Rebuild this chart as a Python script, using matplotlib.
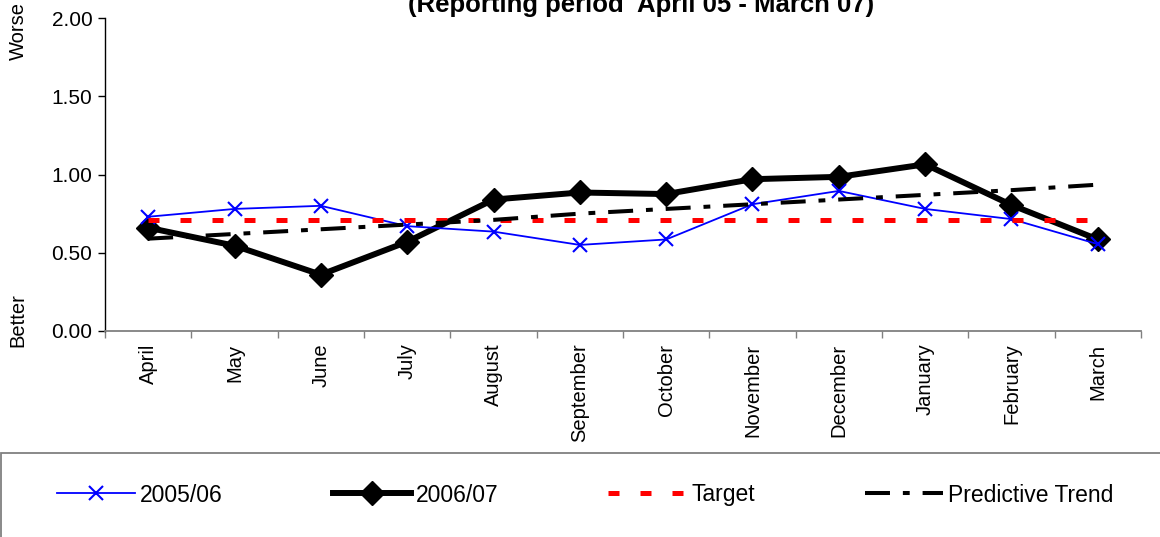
import matplotlib
matplotlib.use("Agg")
import matplotlib.pyplot as plt
from matplotlib.patches import Rectangle
import numpy as np

plt.rcParams['font.family'] = ['Liberation Sans', 'DejaVu Sans']

months = ["April", "May", "June", "July", "August", "September", "October",
          "November", "December", "January", "February", "March"]
s2005 = [0.73, 0.78, 0.80, 0.67, 0.635, 0.55, 0.585, 0.81, 0.895, 0.78, 0.715, 0.555]
s2006 = [0.66, 0.545, 0.36, 0.57, 0.84, 0.885, 0.875, 0.97, 0.985, 1.065, 0.805, 0.585]
target = [0.71] * 12
trend = [0.59, 0.62, 0.65, 0.68, 0.71, 0.75, 0.78, 0.81, 0.84, 0.87, 0.90, 0.935]
yticks = [0.0, 0.5, 1.0, 1.5, 2.0]

W, H = 1160, 537
fig = plt.figure(figsize=(W / 100, H / 100), dpi=100)
ax = fig.add_axes([105 / W, 1 - 331 / H, (1141 - 105) / W, (331 - 18) / H])

x = np.arange(len(months))
l2 = ax.plot(x, s2006, color='black', lw=4.3, marker='D', markersize=12,
             label='2006/07', zorder=2, solid_joinstyle='miter')[0]
l1 = ax.plot(x, s2005, color='#0000FF', lw=1.3, marker='x', markersize=10,
             mew=1.5, label='2005/06', zorder=3)[0]
l3 = ax.plot(x, target, color='#FF0000', lw=3.6, dashes=(2.2, 4.2),
             dash_capstyle='butt', label='Target', zorder=4)[0]
l4 = ax.plot(x, trend, color='black', lw=2.9, dashes=(6.2, 3.2, 1.7, 3.2),
             dash_capstyle='butt', label='Predictive Trend', zorder=5)[0]

ax.set_xlim(-0.5, len(months) - 0.5)
ax.set_ylim(0, 2.0)
ax.set_yticks(yticks)
ax.set_yticklabels([f"{v:.2f}" for v in yticks])
ax.set_xticks(np.arange(-0.5, len(months), 1.0))
ax.set_xticklabels([])
ax.set_xticks(x, minor=True)
ax.set_xticklabels(months, minor=True, rotation=90, fontsize=14.5)
ax.tick_params(axis='x', which='minor', length=0, pad=9)
ax.tick_params(axis='x', which='major', length=5, width=1, direction='out', color='#808080')
ax.tick_params(axis='y', length=5, width=1, direction='out', labelsize=15, pad=4)

for s in ['top', 'right']:
    ax.spines[s].set_visible(False)
ax.spines['bottom'].set_color('#808080')
ax.spines['bottom'].set_linewidth(1.3)
ax.spines['left'].set_linewidth(1.0)

fig.text(641 / W, 1 - 12 / H, "(Reporting period  April 05 - March 07)",
         ha='center', va='baseline', fontsize=18.5, fontweight='bold')
fig.text(18 / W, 1 - 31 / H, "Worse", rotation=90, ha='center', va='center', fontsize=14.5)
fig.text(18 / W, 1 - 320 / H, "Better", rotation=90, ha='center', va='center', fontsize=14.5)

fig.patches.append(Rectangle((1 / W, -0.05), 1.1, (537 - 453) / H + 0.05,
                             transform=fig.transFigure, fill=False,
                             edgecolor='#808080', lw=1.3))

fig.legend(handles=[l1, l2, l3, l4], loc='center left',
           bbox_to_anchor=(57 / W, 1 - 495 / H), ncol=4, frameon=False,
           fontsize=16.5, handlelength=3.4, handletextpad=0.22,
           columnspacing=4.8, borderpad=0, borderaxespad=0)

fig.savefig("out.png", dpi=100)
